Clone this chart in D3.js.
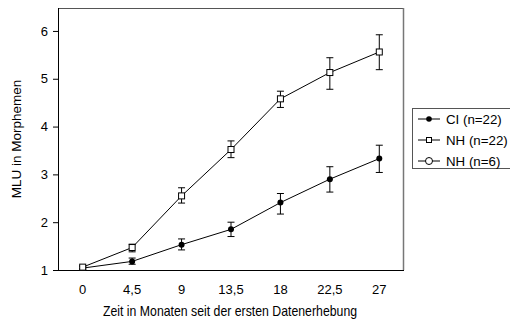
<!DOCTYPE html>
<html><head><meta charset="utf-8">
<script src="https://cdn.jsdelivr.net/npm/d3@7"></script>
<style>body{margin:0;background:#fff}svg{display:block}text{font-family:"Liberation Sans",Arial,sans-serif;fill:#000}</style>
</head><body><svg id="c" width="510" height="319"></svg>
<script>
const categories = ["0","4,5","9","13,5","18","22,5","27"];
const ciMean = [1.04,1.18,1.53,1.85,2.41,2.90,3.33];
const ciLow  = [1.01,1.12,1.42,1.70,2.17,2.63,3.04];
const ciHigh = [1.07,1.25,1.65,2.00,2.60,3.16,3.61];
const nhMean = [1.06,1.47,2.55,3.52,4.58,5.13,5.56];
const nhLow  = [1.03,1.38,2.40,3.35,4.40,4.78,5.19];
const nhHigh = [1.09,1.54,2.72,3.70,4.74,5.44,5.92];
const yTicks = [1,2,3,4,5,6];
const legendLabels = ["CI (n=22)","NH (n=22)","NH (n=6)"];

const svg = d3.select("#c");
const L=58,R=404,T=8,B=270;
const x = d3.scaleBand().domain(categories).range([L,R]);
const y = d3.scaleLinear().domain([1,6.48]).range([B,T]);
const cx = c => x(c)+x.bandwidth()/2;

// plot border
svg.append("line").attr("x1",L).attr("x2",R).attr("y1",T+0.5).attr("y2",T+0.5).attr("stroke","#555");
svg.append("line").attr("x1",R-0.5).attr("x2",R-0.5).attr("y1",T).attr("y2",B).attr("stroke","#777").attr("stroke-width",1.5);

const ya = svg.append("g").attr("transform",`translate(${L},0)`)
  .call(d3.axisLeft(y).tickValues(yTicks).tickSize(5).tickPadding(5).tickFormat(d3.format("d")));
ya.select(".domain").attr("stroke","#000").attr("d",`M0.5,${T}V${B}`);
ya.selectAll("text").style("font-size","13px").attr("fill","#000");
const xa = svg.append("g").attr("transform",`translate(0,${B})`)
  .call(d3.axisBottom(x).tickSize(0).tickPadding(15));
xa.select(".domain").attr("stroke","#000").attr("d",`M${L},0.5H${R}`);
xa.selectAll("text").style("font-size","13px").attr("fill","#000");

svg.append("text").attr("transform","translate(230,316) scale(1,1.12)").attr("text-anchor","middle").style("font-size","12.3px")
  .text("Zeit in Monaten seit der ersten Datenerhebung");
svg.append("text").attr("transform",`translate(21,139) rotate(-90)`).attr("text-anchor","middle").style("font-size","13.5px")
  .text("MLU in Morphemen");

function series(mean,low,high,marker){
  const g = svg.append("g");
  g.append("path").attr("d",d3.line().x((d,i)=>cx(categories[i])).y(d=>y(d))(mean))
    .attr("fill","none").attr("stroke","#000").attr("stroke-width",1);
  categories.forEach((c,i)=>{
    const px=cx(c);
    g.append("line").attr("x1",px).attr("x2",px).attr("y1",y(low[i])).attr("y2",y(high[i])).attr("stroke","#000");
    [low[i],high[i]].forEach(v=>g.append("line").attr("x1",px-3.5).attr("x2",px+3.5).attr("y1",y(v)).attr("y2",y(v)).attr("stroke","#000"));
    if(marker==="circle") g.append("circle").attr("cx",px).attr("cy",y(mean[i])).attr("r",3).attr("fill","#000");
    else g.append("rect").attr("x",px-3).attr("y",y(mean[i])-3).attr("width",6).attr("height",6).attr("fill","#fff").attr("stroke","#000");
  });
}
series(ciMean,ciLow,ciHigh,"circle");
series(nhMean,nhLow,nhHigh,"square");

// legend
const lg = svg.append("g");
lg.append("rect").attr("x",412.5).attr("y",108.5).attr("width",100).attr("height",60).attr("fill","#fff").attr("stroke","#555");
legendLabels.forEach((t,i)=>{
  const yy=119+i*21;
  lg.append("line").attr("x1",418).attr("x2",440).attr("y1",yy).attr("y2",yy).attr("stroke","#000");
  if(i===0) lg.append("circle").attr("cx",429).attr("cy",yy).attr("r",2.8).attr("fill","#000");
  else if(i===1) lg.append("rect").attr("x",426.5).attr("y",yy-2.5).attr("width",5).attr("height",5).attr("fill","#fff").attr("stroke","#000");
  else lg.append("circle").attr("cx",429).attr("cy",yy).attr("r",3.5).attr("fill","#fff").attr("stroke","#000");
  lg.append("text").attr("x",446).attr("y",yy+5).style("font-size","13.3px").text(t);
});
</script></body></html>
